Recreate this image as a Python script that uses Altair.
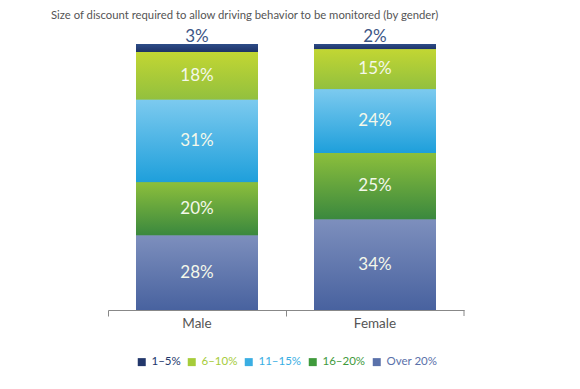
import altair as alt
import pandas as pd

genders = ["Male", "Female"]
categories = ["1–5%", "6–10%", "11–15%", "16–20%", "Over 20%"]
male_values = [3, 18, 31, 20, 28]
female_values = [2, 15, 24, 25, 34]
solid_colors = ["#22376b", "#a6cc3a", "#3aaee3", "#3f9a3c", "#5a71aa"]
grad_top = ["#2d4c88", "#c2d633", "#7ccaef", "#8cbf3c", "#7d8fbd"]
grad_bottom = ["#1e3366", "#92c03e", "#1e9fdb", "#3a883e", "#48629f"]
title_text = "Size of discount required to allow driving behavior to be monitored (by gender)"

rows = []
for g, vals in zip(genders, [male_values, female_values]):
    for i, (c, v) in enumerate(zip(categories, vals)):
        rows.append({"gender": g, "cat": c, "value": v, "rank": len(categories) - i,
                     "label": f"{v}%", "top": c == categories[0]})
df = pd.DataFrame(rows)

FONT = "Lato"

base = alt.Chart(df).transform_stack(
    stack="value", groupby=["gender"], as_=["y0", "y1"],
    sort=[alt.SortField("rank", order="ascending")]
).transform_calculate(mid="(datum.y0 + datum.y1) / 2")

x_enc = alt.X("gender:N", sort=genders, title=None,
              scale=alt.Scale(paddingInner=0, paddingOuter=0),
              axis=alt.Axis(bandPosition=0, tickSize=6, tickColor="#888888",
                            domainColor="#888888", labelFont=FONT, labelFontSize=13.5,
                            labelColor="#555555", labelPadding=0, labelAngle=0,
                            grid=False))
y_scale = alt.Scale(domain=[0, 100])

bars = base.mark_bar(size=122).encode(
    x=x_enc,
    y=alt.Y("y0:Q", scale=y_scale, axis=None),
    y2="y1:Q",
    color=alt.Color("cat:N", sort=categories,
                    scale=alt.Scale(domain=categories, range=solid_colors),
                    legend=alt.Legend(title=None, orient="none", direction="horizontal",
                                      legendX=28, legendY=312,
                                      symbolType="square", symbolSize=64,
                                      symbolStrokeWidth=0,
                                      labelFont=FONT, labelFontSize=11.5,
                                      labelColor=alt.ExprRef("scale('color', datum.value)"),
                                      columnPadding=5, labelOffset=4)),
)

grad_layers = []
for c, t, b in zip(categories, grad_top, grad_bottom):
    grad_layers.append(
        base.transform_filter(alt.datum.cat == c).mark_bar(
            size=122,
            color=alt.Gradient(gradient="linear", x1=0, y1=0, x2=0, y2=1,
                               stops=[alt.GradientStop(color=t, offset=0),
                                      alt.GradientStop(color=b, offset=1)])
        ).encode(
            x=alt.X("gender:N", sort=genders),
            y=alt.Y("y0:Q", scale=y_scale),
            y2="y1:Q",
        )
    )

inner_text = base.transform_filter("!datum.top").mark_text(
    font=FONT, fontSize=17, color="#f4f8ea", baseline="middle"
).encode(
    x=alt.X("gender:N", sort=genders),
    y=alt.Y("mid:Q", scale=y_scale),
    text="label:N",
)

top_text = base.transform_filter("datum.top").mark_text(
    font=FONT, fontSize=17, color="#3d5685", baseline="bottom", dy=2
).encode(
    x=alt.X("gender:N", sort=genders),
    y=alt.Y("y1:Q", scale=y_scale),
    text="label:N",
)

end_tick = alt.Chart(pd.DataFrame({"gender": [genders[-1]]})).mark_rule(
    color="#888888", strokeWidth=1
).encode(
    x=alt.X("gender:N", sort=genders, bandPosition=1),
    y=alt.value(266),
    y2=alt.value(272),
)

chart = alt.layer(bars, *grad_layers, inner_text, top_text, end_tick).properties(
    width=356, height=266,
    title=alt.TitleParams(title_text, font=FONT, fontSize=11.3, fontWeight="normal",
                          color="#555555", anchor="start", frame="group",
                          dx=-57, offset=7),
    padding={"left": 100, "top": 36, "right": 100, "bottom": 65},
    autosize=alt.AutoSizeParams(type="none"),
    background="white",
).configure_view(stroke=None)

chart.save("out.html", embed_options={"renderer": "svg", "actions": False})
